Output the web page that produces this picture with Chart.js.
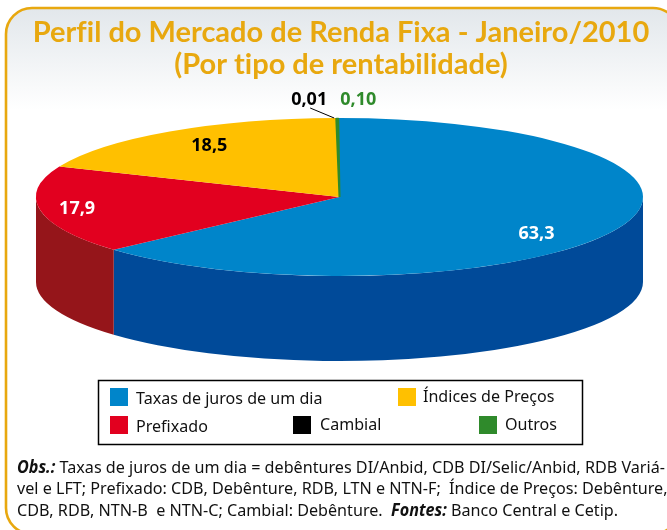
<!DOCTYPE html>
<html lang="pt">
<head>
<meta charset="utf-8">
<title>Perfil do Mercado de Renda Fixa</title>
<script src="https://cdn.jsdelivr.net/npm/chart.js@4"></script>
<style>html,body{margin:0;padding:0;background:#fff}canvas{display:block}</style>
</head>
<body>
<canvas id="c" width="667" height="530"></canvas>
<script>
const titleLines = ['Perfil do Mercado de Renda Fixa - Janeiro/2010', '(Por tipo de rentabilidade)'];
const categories = ['Taxas de juros de um dia', 'Prefixado', 'Índices de Preços', 'Cambial', 'Outros'];
const values = [63.3, 17.9, 18.5, 0.01, 0.10];
const valueLabels = ['63,3', '17,9', '18,5', '0,01', '0,10'];
const faceColors = ['#0085CA', '#E2001F', '#FFC000', '#000000', '#2F8A2B'];
const wallColors = ['#004A99', '#95151A', '#C89600', '#000000', '#1F5F1C'];
const labelColors = ['#FFFFFF', '#FFFFFF', '#000000', '#000000', '#2F8A2B'];
const noteLines = [
  [['bi', 'Obs.:'], ['r', ' Taxas de juros de um dia = debêntures DI/Anbid, CDB DI/Selic/Anbid, RDB Variá-']],
  [['r', 'vel e LFT; Prefixado: CDB, Debênture, RDB, LTN e NTN-F;  Índice de Preços: Debênture,']],
  [['r', 'CDB, RDB, NTN-B  e NTN-C; Cambial: Debênture.  '], ['bi', 'Fontes:'], ['r', ' Banco Central e Cetip.']]
];

const FONT = '"Noto Sans", sans-serif';
const pie = {cx: 339.5, cy: 197, rx: 303.5, ry: 79, depth: 85};
const labelPlace = [
  {f: .71, dx: 0, dy: 14}, {f: .877, dx: 0, dy: 0}, {f: .767, dx: 0, dy: -1},
  {f: 1, dx: -27, dy: -18}, {f: 1, dx: 21, dy: -18}
];
const legendPlace = [
  {sx: 110, sy: 388, tx: 136, ty: 399}, {sx: 110, sy: 416, tx: 136, ty: 427},
  {sx: 398, sy: 388, tx: 423, ty: 397}, {sx: 293, sy: 416, tx: 320, ty: 425},
  {sx: 479, sy: 416, tx: 505, ty: 425}
];

const framePlugin = {
  id: 'frame',
  beforeDraw(chart) {
    const ctx = chart.ctx;
    ctx.save();
    ctx.fillStyle = '#fff';
    ctx.fillRect(0, 0, 667, 530);
    const g = ctx.createLinearGradient(0, 8, 0, 110);
    g.addColorStop(0, '#E2E7EB');
    g.addColorStop(1, '#FFFFFF');
    ctx.beginPath();
    ctx.roundRect(6, 8, 673, 526, 26);
    ctx.fillStyle = g;
    ctx.fill();
    ctx.lineWidth = 2.6;
    ctx.strokeStyle = '#E8A80F';
    ctx.stroke();
    ctx.restore();
    ctx.textRendering = 'optimizeSpeed';
  }
};

const pie3d = {
  id: 'pie3d',
  beforeDatasetsDraw(chart) {
    const ctx = chart.ctx, arcs = chart.getDatasetMeta(0).data;
    const {cx, cy, rx, ry, depth} = pie;
    ctx.save();
    arcs.forEach((a, i) => {
      const s = Math.max(a.startAngle, 0), e = Math.min(a.endAngle, Math.PI);
      if (e <= s) return;
      ctx.beginPath();
      ctx.ellipse(cx, cy, rx, ry, 0, s, e);
      ctx.ellipse(cx, cy + depth, rx, ry, 0, e, s, true);
      ctx.closePath();
      ctx.fillStyle = wallColors[i];
      ctx.fill();
    });
    ctx.restore();
    const c = arcs[0];
    ctx.save();
    ctx.translate(cx, cy);
    ctx.scale(1, ry / rx);
    ctx.translate(-c.x, -c.y);
  },
  afterDatasetsDraw(chart) {
    const ctx = chart.ctx;
    ctx.restore();
    const arcs = chart.getDatasetMeta(0).data;
    const {cx, cy, rx, ry} = pie;
    ctx.save();
    ctx.textAlign = 'center';
    ctx.textBaseline = 'middle';
    const pts = arcs.map((a, i) => {
      const m = (a.startAngle + a.endAngle) / 2, p = labelPlace[i];
      return {ex: cx + Math.cos(m) * rx, ey: cy + Math.sin(m) * ry,
        x: cx + Math.cos(m) * rx * p.f + p.dx, y: cy + Math.sin(m) * ry * p.f + p.dy};
    });
    // leader line for Cambial
    ctx.beginPath();
    ctx.moveTo(pts[3].x + 1, pts[3].y + 8);
    ctx.lineTo(pts[3].ex - 2, pts[3].ey);
    ctx.lineWidth = 1;
    ctx.strokeStyle = '#000';
    ctx.stroke();
    pts.forEach((p, i) => {
      ctx.font = 'bold 18px ' + FONT;
      ctx.fillStyle = labelColors[i];
      ctx.fillText(valueLabels[i], p.x, p.y);
    });
    ctx.restore();
  },
  afterDraw(chart) {
    const ctx = chart.ctx;
    ctx.save();
    // legend
    ctx.strokeStyle = '#000';
    ctx.lineWidth = 1.5;
    ctx.strokeRect(98.5, 380.5, 484, 64);
    ctx.textBaseline = 'middle';
    ctx.textAlign = 'left';
    categories.forEach((t, i) => {
      const p = legendPlace[i];
      ctx.fillStyle = faceColors[i];
      ctx.fillRect(p.sx, p.sy, 18, 18);
      ctx.fillStyle = '#111';
      ctx.font = '17px ' + FONT;
      drawScaled(ctx, t, p.tx, p.ty, .945);
    });
    // note
    const ys = [468, 489.5, 511];
    noteLines.forEach((segs, l) => {
      let x = 17;
      segs.forEach(([st, t]) => {
        ctx.font = (st === 'bi' ? 'italic bold ' : '') + '17px ' + FONT;
        ctx.fillStyle = '#111';
        drawScaled(ctx, t, x, ys[l], .95);
        x += ctx.measureText(t).width * .95;
      });
    });
    ctx.restore();
  }
};
function drawScaled(ctx, t, x, y, k) {
  ctx.save();
  ctx.translate(x, y);
  ctx.scale(k, 1);
  ctx.fillText(t, 0, 0);
  ctx.restore();
}

new Chart(document.getElementById('c'), {
  type: 'pie',
  data: {
    labels: categories,
    datasets: [{
      data: values,
      backgroundColor: faceColors,
      borderColor: faceColors,
      borderWidth: [0, 0, 0, 0, 2],
      radius: pie.rx,
      clip: false
    }]
  },
  options: {
    responsive: false,
    animation: false,
    rotation: -0.25,
    layout: {padding: {left: 15}},
    plugins: {
      legend: {display: false},
      tooltip: {enabled: false},
      title: {
        display: true,
        text: titleLines,
        color: '#E8A80F',
        font: {family: 'Lato, sans-serif', size: 29, weight: 'bold', lineHeight: 1.12},
        padding: {top: 16, bottom: 0}
      }
    }
  },
  plugins: [framePlugin, pie3d]
});
</script>
</body>
</html>
